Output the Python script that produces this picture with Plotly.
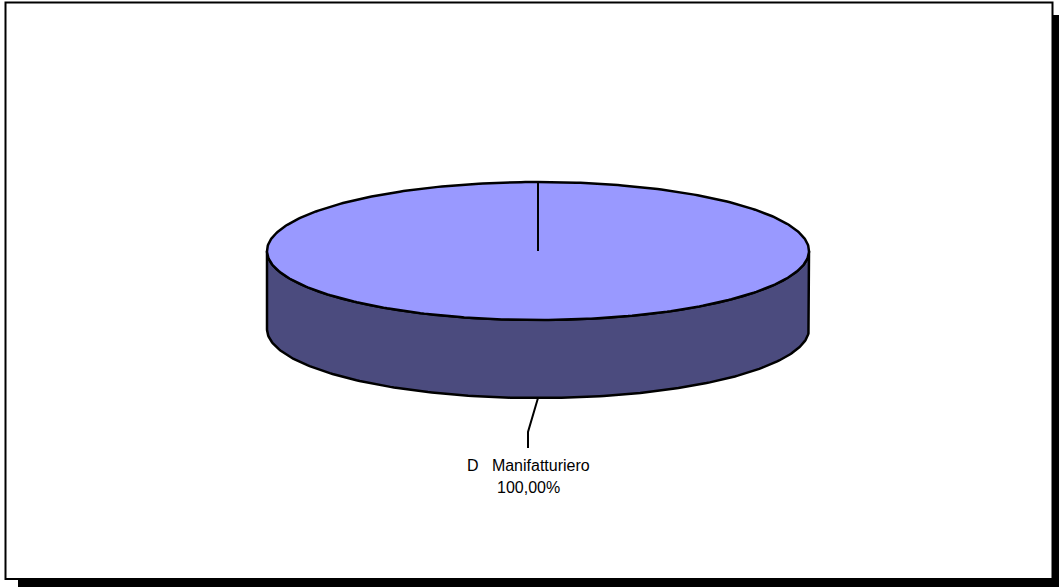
import numpy as np
import plotly.graph_objects as go

# ---- data ----
categories = ["D\u00a0\u00a0\u00a0Manifatturiero"]
values = [100.0]
top_colors = ["#9999FF"]
side_colors = ["#4B4B7E"]

# ---- geometry (pixel-like axis units) ----
W, H = 1059, 587
cx, cy = 538.0, 251.0
rx, ry = 271.0, 69.0
depth = 78.0

def ell(theta_deg, dy=0.0):
    t = np.radians(theta_deg)
    return cx + rx * np.cos(t), cy - ry * np.sin(t) + dy

fig = go.Figure()

# frame shadow + frame
fig.add_shape(type="rect", x0=18, y0=15, x1=1059, y1=587, fillcolor="black",
              line=dict(width=0), layer="below")
fig.add_shape(type="rect", x0=5.5, y0=2.5, x1=1052.5, y1=579, fillcolor="white",
              line=dict(color="black", width=2), layer="below")

total = sum(values)
start = 90.0
bounds = []
for v in values:
    end = start - 360.0 * v / total
    bounds.append((start, end))
    start = end

# side (front half visible)
th = np.linspace(180, 360, 200)
xs_top, ys_top = ell(th)
xs_bot, ys_bot = ell(th[::-1], depth)
for (s, e), sc in zip(bounds, side_colors):
    fig.add_trace(go.Scatter(
        x=np.concatenate([xs_top, xs_bot, xs_top[:1]]),
        y=np.concatenate([ys_top, ys_bot, ys_top[:1]]),
        mode="lines", fill="toself", fillcolor=sc,
        line=dict(color="black", width=2.5), hoverinfo="skip", showlegend=False))

# top faces
for (s, e), tc in zip(bounds, top_colors):
    th2 = np.linspace(s, e, 400)
    x2, y2 = ell(th2)
    if abs(s - e) < 359.9:
        x2 = np.concatenate([[cx], x2, [cx]])
        y2 = np.concatenate([[cy], y2, [cy]])
    fig.add_trace(go.Scatter(x=x2, y=y2, mode="lines", fill="toself", fillcolor=tc,
                             line=dict(color="black", width=2.5), hoverinfo="skip",
                             showlegend=False))
    # slice edge from centre
    ex, ey = ell(s)
    fig.add_trace(go.Scatter(x=[cx, ex], y=[cy, ey], mode="lines",
                             line=dict(color="black", width=2), hoverinfo="skip",
                             showlegend=False))

# labels with leader lines
for (s, e), cat, v in zip(bounds, categories, values):
    mid = (s + e) / 2.0
    lx, ly = ell(mid, depth)
    px, py = lx - 10, ly + 34
    fig.add_trace(go.Scatter(x=[lx, px, px], y=[ly, py, py + 16], mode="lines",
                             line=dict(color="black", width=2), hoverinfo="skip",
                             showlegend=False))
    pct = f"{100.0 * v / total:.2f}".replace(".", ",") + "%"
    fig.add_annotation(x=px, y=py + 33, text=cat, showarrow=False,
                       font=dict(family="Liberation Sans, Arial", size=16, color="black"),
                       xanchor="center", yanchor="middle")
    fig.add_annotation(x=px, y=py + 55, text=pct, showarrow=False,
                       font=dict(family="Liberation Sans, Arial", size=16, color="black"),
                       xanchor="center", yanchor="middle")

fig.update_layout(
    width=W, height=H, margin=dict(l=0, r=0, t=0, b=0),
    paper_bgcolor="white", plot_bgcolor="rgba(0,0,0,0)",
    xaxis=dict(range=[0, W], visible=False, fixedrange=True),
    yaxis=dict(range=[H, 0], visible=False, fixedrange=True),
    showlegend=False,
)

fig.write_html("out.html", config={"displayModeBar": False},
               post_script="document.body.style.margin='0';document.body.style.overflow='hidden';")
